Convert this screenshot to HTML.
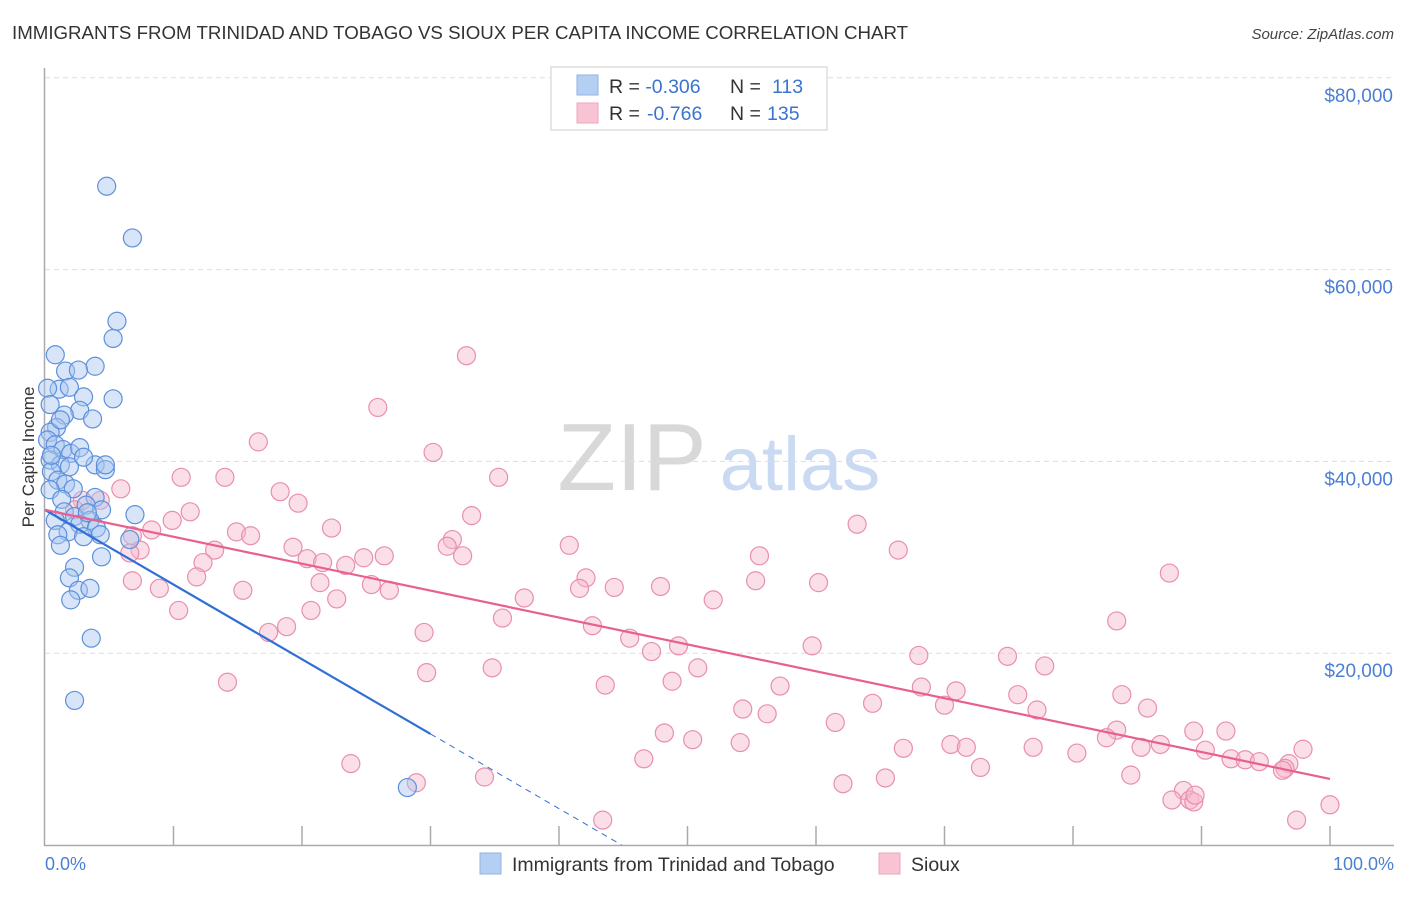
<!DOCTYPE html>
<html><head><meta charset="utf-8"><style>
body{margin:0;background:#fff;font-family:"Liberation Sans",sans-serif;}
svg text{font-family:"Liberation Sans",sans-serif;}
</style></head><body>
<svg id="chart" width="1406" height="892" xmlns="http://www.w3.org/2000/svg">
<text x="12" y="39" font-size="18.7" fill="#333">IMMIGRANTS FROM TRINIDAD AND TOBAGO VS SIOUX PER CAPITA INCOME CORRELATION CHART</text>
<text x="1394" y="39" font-size="15" fill="#444" text-anchor="end" font-style="italic">Source: ZipAtlas.com</text>
<g>
<text x="632" y="490" font-size="96" fill="#d8d8d8" font-family="Liberation Serif,serif" text-anchor="middle">ZIP</text>
<text x="800" y="490" font-size="76" fill="#c9daf2" text-anchor="middle">atlas</text>
</g>
<g id="grid"></g>
<g id="axes"></g>
<g id="pts"></g>
<g id="lines"></g>
<text transform="translate(34,457) rotate(-90)" font-size="17" fill="#333" text-anchor="middle">Per Capita Income</text>
<text x="45" y="870" font-size="18" fill="#4a7fd4">0.0%</text>
<text x="1394" y="870" font-size="18" fill="#4a7fd4" text-anchor="end">100.0%</text>
<g>
<rect x="551" y="67" width="276" height="63" fill="#fff" stroke="#ddd" stroke-width="1.5"/>
<rect x="577" y="75" width="21" height="20" fill="#b5cff3" stroke="#8fb3e6"/>
<rect x="577" y="103" width="21" height="20" fill="#f8c4d3" stroke="#eea6bd"/>
<text x="609" y="93" font-size="19.5" fill="#333">R = <tspan fill="#3a74d0">-0.306</tspan>  <tspan x="730">N = </tspan><tspan x="772" fill="#3a74d0">113</tspan></text>
<text x="609" y="120" font-size="19.5" fill="#333">R = <tspan x="647" fill="#3a74d0">-0.766</tspan><tspan x="730">N = </tspan><tspan x="767" fill="#3a74d0">135</tspan></text>
</g>
<g>
<rect x="480" y="853" width="21" height="21" fill="#b5cff3" stroke="#8fb3e6"/>
<text x="512" y="871" font-size="19.5" fill="#333">Immigrants from Trinidad and Tobago</text>
</g>
<g>
<rect x="879" y="853" width="21" height="21" fill="#f8c4d3" stroke="#eea6bd"/>
<text x="911" y="871" font-size="19.5" fill="#333">Sioux</text>
</g>
</svg>
<script>
const yTicks=[20000,40000,60000,80000];
const yTickLabels=["$20,000","$40,000","$60,000","$80,000"];
const blueX=[4.8,6.8,5.6,5.3,0.8,3.9,1.6,2.6,1.1,1.9,5.3,3.0,0.2,0.4,2.7,1.5,3.7,0.9,0.4,0.2,0.8,1.4,2.0,2.7,0.4,1.2,1.9,3.9,4.7,0.5,3.0,1.0,1.6,2.2,0.4,3.9,1.3,3.2,4.4,1.5,7.0,2.3,3.5,0.8,2.7,4.0,1.8,1.0,3.0,6.6,1.2,4.4,2.3,1.9,2.6,3.5,2.0,3.6,2.3,28.2,4.3,3.3,0.5,1.2,4.7];
const blueY=[68.8,63.4,54.7,52.9,51.2,50.0,49.5,49.6,47.6,47.8,46.6,46.8,47.7,46.0,45.4,44.9,44.5,43.6,43.1,42.3,41.8,41.3,40.9,41.5,40.2,39.7,39.5,39.7,39.2,39.0,40.5,38.1,37.7,37.2,37.1,36.3,36.1,35.5,35.0,34.8,34.5,34.3,33.9,33.9,33.5,33.1,32.7,32.4,32.2,31.9,31.3,30.1,29.0,27.9,26.6,26.8,25.6,21.6,15.1,6.0,32.4,34.7,40.7,44.4,39.7];
const pinkX=[32.8,25.9,16.6,30.2,10.6,14.0,35.3,5.9,18.3,19.7,11.3,33.2,9.9,63.2,22.3,14.9,8.3,16.0,6.8,31.7,31.3,40.8,13.2,19.3,66.4,7.4,6.6,32.5,26.4,24.8,55.6,20.4,21.6,23.4,12.3,42.1,55.3,11.8,87.5,21.4,25.4,26.8,44.3,47.9,60.2,41.6,8.9,15.4,22.7,37.3,52.0,10.4,20.7,35.6,83.4,42.6,18.8,17.4,29.5,45.5,49.3,59.7,47.2,68.0,74.9,77.8,50.8,34.8,29.7,48.8,14.2,43.6,57.2,68.2,70.9,75.7,83.8,64.4,70.0,85.8,77.2,54.3,56.2,61.5,83.4,89.4,91.9,48.2,82.6,50.4,54.1,70.5,71.7,86.8,76.9,85.3,66.8,90.3,97.9,80.3,92.3,93.4,94.5,96.8,46.6,72.8,23.8,84.5,34.2,65.4,96.5,96.3,62.1,28.9,88.6,87.7,89.1,89.4,100,97.4,43.4,89.5,6.8,2.9,2.3,4.3];
const pinkY=[51.1,45.7,42.1,41.0,38.4,38.4,38.4,37.2,36.9,35.7,34.8,34.4,33.9,33.5,33.1,32.7,32.9,32.3,32.3,31.9,31.2,31.3,30.8,31.1,30.8,30.8,30.5,30.2,30.2,30.0,30.2,29.9,29.5,29.2,29.5,27.9,27.6,28.0,28.4,27.4,27.2,26.6,26.9,27.0,27.4,26.8,26.8,26.6,25.7,25.8,25.6,24.5,24.5,23.7,23.4,22.9,22.8,22.2,22.2,21.6,20.8,20.8,20.2,19.8,19.7,18.7,18.5,18.5,18.0,17.1,17.0,16.7,16.6,16.5,16.1,15.7,15.7,14.8,14.6,14.3,14.1,14.2,13.7,12.8,12.0,11.9,11.9,11.7,11.2,11.0,10.7,10.5,10.2,10.5,10.2,10.2,10.1,9.9,10.0,9.6,9.0,8.9,8.7,8.5,9.0,8.1,8.5,7.3,7.1,7.0,8.0,7.8,6.4,6.5,5.7,4.7,4.7,4.5,4.2,2.6,2.6,5.2,27.6,36.0,35.0,36.0];
const blueLine=[35.0,-0.78];
const blueSolidEnd=[30];
const pinkLine=[35.0,-0.281];
const NS="http://www.w3.org/2000/svg";
const X=v=>45+v*12.85;
const Y=v=>845-v*9.575;
function mk(tag,attrs,parent){const e=document.createElementNS(NS,tag);for(const k in attrs)e.setAttribute(k,attrs[k]);parent.appendChild(e);return e;}
const grid=document.getElementById('grid'),axes=document.getElementById('axes'),pts=document.getElementById('pts'),lines=document.getElementById('lines');
yTicks.forEach((t,i)=>{
 const y=Y(t/1000)-(t/20000)*0.3;
 const l=mk('line',{x1:45,x2:1394,y1:y,y2:y,stroke:'#ddd','stroke-dasharray':'5,4'},grid);
 
 
 const tx=mk('text',{x:1393,y:y+24,'font-size':19,fill:'#4a7fd4','text-anchor':'end'},grid);
 tx.textContent=yTickLabels[i];
 
 
});
const ax=mk('path',{d:'M44.5 68 V845.5 H1394',fill:'none',stroke:'#aaa','stroke-width':1.5},axes);


for(let i=1;i<=10;i++){
 const t=mk('line',{x1:X(i*10),x2:X(i*10),y1:826,y2:845,stroke:'#aaa','stroke-width':1.5},axes);
 
 
}
function dots(xs,ys,fill,stroke,name){xs.forEach((x,i)=>{
 const c=mk('circle',{cx:X(x),cy:Y(ys[i]),r:9,fill:fill,'fill-opacity':0.45,stroke:stroke,'stroke-width':1.2},pts);
 
 
});}
dots(pinkX,pinkY,'#f6b9cc','#e98fac','sioux-point');
dots(blueX,blueY,'#a9c6f0','#5d90dc','trinidad-point');
const bEnd=blueSolidEnd[0],bZero=-blueLine[0]/blueLine[1];
const bl=mk('line',{x1:X(0),y1:Y(blueLine[0]),x2:X(bEnd),y2:Y(blueLine[0]+blueLine[1]*bEnd),stroke:'#2f6fd6','stroke-width':2.2},lines);


const bd=mk('line',{x1:X(bEnd),y1:Y(blueLine[0]+blueLine[1]*bEnd),x2:X(bZero),y2:Y(0),stroke:'#2f6fd6','stroke-width':1,'stroke-dasharray':'6,5'},lines);


const pl=mk('line',{x1:X(0),y1:Y(pinkLine[0]),x2:X(100),y2:Y(pinkLine[0]+pinkLine[1]*100),stroke:'#e8608f','stroke-width':2.2},lines);


</script>
</body></html>
